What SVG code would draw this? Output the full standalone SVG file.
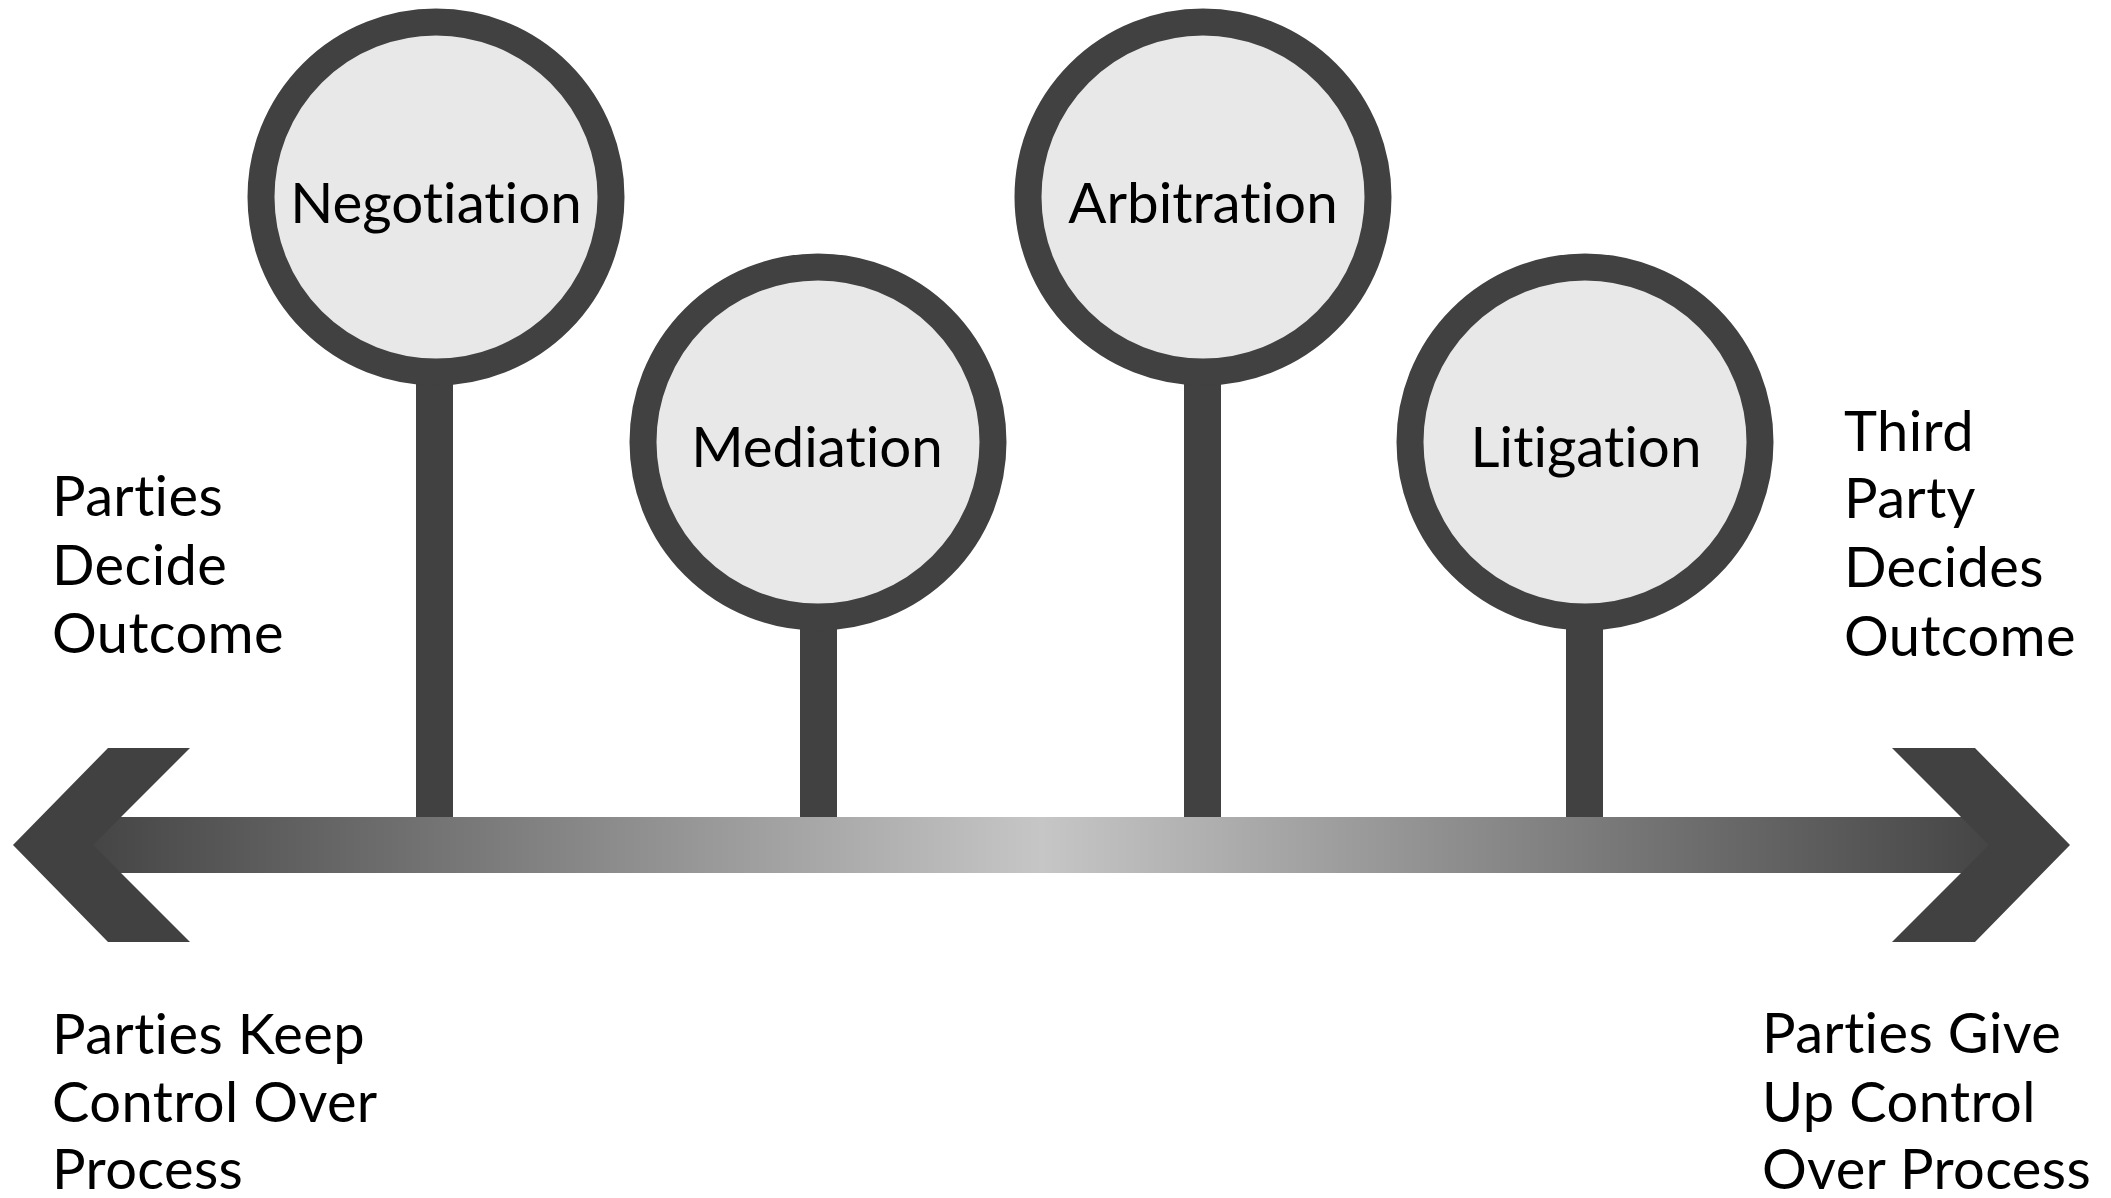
<svg xmlns="http://www.w3.org/2000/svg" width="2111" height="1198" viewBox="0 0 2111 1198">
  <defs>
    <linearGradient id="barGrad" gradientUnits="userSpaceOnUse" x1="93" y1="0" x2="1989" y2="0">
      <stop offset="0" stop-color="#454545"/>
      <stop offset="0.5" stop-color="#c6c6c6"/>
      <stop offset="1" stop-color="#454545"/>
    </linearGradient>
  </defs>
  <style>
    .ring { fill: #e8e8e8; stroke: #414141; stroke-width: 27; }
    .stem { fill: #414141; }
    .head { fill: #414141; }
    text { font-variant-ligatures: none; font-feature-settings: "liga" 0, "clig" 0; }
    .lbl { font-family: Lato, "Liberation Sans", sans-serif; font-size: 56.5px; fill: #000; text-anchor: middle; }
    .side { font-family: Lato, "Liberation Sans", sans-serif; font-size: 56px; fill: #000; letter-spacing: 0.4px; }
  </style>
  <rect width="2111" height="1198" fill="#ffffff"/>

  <g id="connectors">
    <rect class="stem" x="416" y="370" width="37" height="450"/>
    <rect class="stem" x="800" y="610" width="37" height="210"/>
    <rect class="stem" x="1184" y="370" width="37" height="450"/>
    <rect class="stem" x="1566" y="610" width="37" height="210"/>
  </g>

  <g id="axis">
    <rect x="93" y="817" width="1896" height="56" fill="url(#barGrad)"/>
    <polygon class="head" points="13,845 108,748 190,748 93,845 190,942 108,942"/>
    <polygon class="head" points="2070,845 1975,748 1892,748 1989,845 1892,942 1975,942"/>
  </g>

  <g id="negotiation">
    <circle class="ring" cx="436" cy="197" r="175"/>
    <text class="lbl" x="436" y="223">Negotiation</text>
  </g>
  <g id="mediation">
    <circle class="ring" cx="818" cy="442" r="175"/>
    <text class="lbl" x="817" y="467">Mediation</text>
  </g>
  <g id="arbitration">
    <circle class="ring" cx="1203" cy="197" r="175"/>
    <text class="lbl" x="1203" y="223">Arbitration</text>
  </g>
  <g id="litigation">
    <circle class="ring" cx="1585" cy="442" r="175"/>
    <text class="lbl" x="1586" y="467">Litigation</text>
  </g>

  <g id="parties-decide">
    <text class="side" x="52" y="516">Parties</text>
    <text class="side" x="52" y="585">Decide</text>
    <text class="side" x="52" y="653">Outcome</text>
  </g>
  <g id="third-party-decides">
    <text class="side" x="1844" y="451">Third</text>
    <text class="side" x="1844" y="518">Party</text>
    <text class="side" x="1844" y="587">Decides</text>
    <text class="side" x="1844" y="656">Outcome</text>
  </g>
  <g id="parties-keep">
    <text class="side" x="52" y="1054">Parties Keep</text>
    <text class="side" x="52" y="1122">Control Over</text>
    <text class="side" x="52" y="1189">Process</text>
  </g>
  <g id="parties-give">
    <text class="side" x="1762" y="1053">Parties Give</text>
    <text class="side" x="1762" y="1122">Up Control</text>
    <text class="side" x="1762" y="1189">Over Process</text>
  </g>
</svg>
